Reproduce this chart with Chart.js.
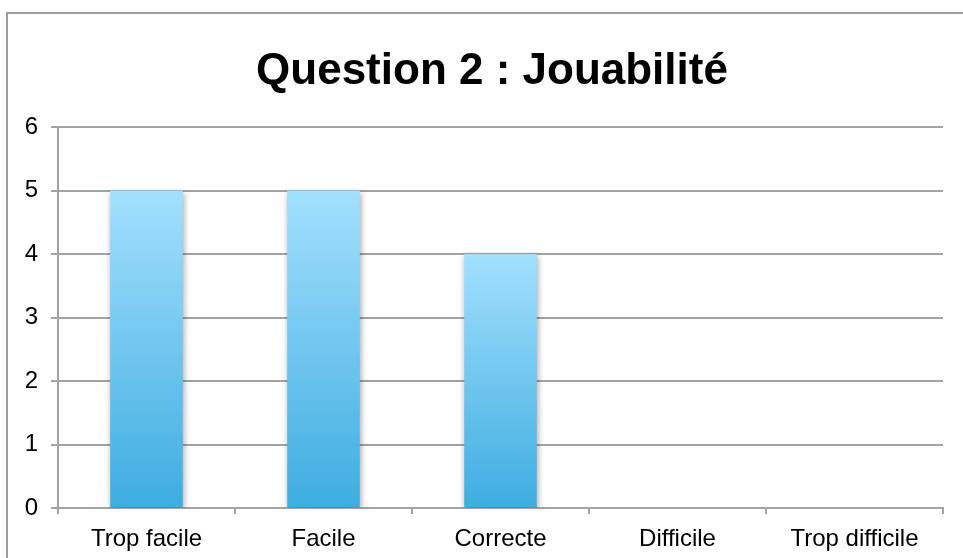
<!DOCTYPE html>
<html>
<head>
<meta charset="utf-8">
<script src="https://cdn.jsdelivr.net/npm/chart.js@4"></script>
<style>
  body { margin: 0; background: #fff; overflow: hidden; }
  #frame { position: absolute; left: 6px; top: 12px; width: 1000px; height: 600px; border: 2px solid #9d9d9d; }
  #mycanvas { position: absolute; left: 0; top: 0; }
</style>
</head>
<body>
<div id="frame"></div>
<canvas id="mycanvas" width="963" height="558"></canvas>
<script>
var categories = ["Trop facile", "Facile", "Correcte", "Difficile", "Trop difficile"];
var reponses = [5, 5, 4, 0, 0];
var yTicks = ["0", "1", "2", "3", "4", "5", "6"];
var chartTitle = "Question 2 : Jouabilité";

var gridColor = "#a3a3a3";
var fontFamily = "'Liberation Sans', Arial, sans-serif";

// gradient per bar, light on top, darker at the bottom
function barGradient(context) {
    var chart = context.chart;
    if (!chart.chartArea) return "#7cc8f0";
    var y = chart.scales.y;
    var top = y.getPixelForValue(context.raw);
    var bottom = y.getPixelForValue(0);
    if (bottom - top < 1) return "#7cc8f0";
    var g = chart.ctx.createLinearGradient(0, top, 0, bottom);
    g.addColorStop(0, "#a3e0fe");
    g.addColorStop(1, "#3eade0");
    return g;
}

var barShadow = {
    id: "barShadow",
    beforeDatasetsDraw: function(chart) {
        var ctx = chart.ctx;
        ctx.save();
        ctx.shadowColor = "rgba(0, 0, 0, 0.35)";
        ctx.shadowBlur = 6;
        ctx.shadowOffsetX = 1;
        ctx.shadowOffsetY = 2;
    },
    afterDatasetsDraw: function(chart) {
        chart.ctx.restore();
    }
};

// title is not centred over the canvas in the original, so draw it here
var titlePlugin = {
    id: "titlePlugin",
    afterDraw: function(chart) {
        var ctx = chart.ctx;
        ctx.save();
        ctx.font = "bold 44px " + fontFamily;
        ctx.fillStyle = "#000";
        ctx.textAlign = "center";
        ctx.textBaseline = "alphabetic";
        ctx.fillText(chartTitle, 492, 84);
        ctx.restore();
    }
};

var chartdata = {
    labels: categories,
    datasets: [{
        label: "Question 2",
        data: reponses,
        backgroundColor: barGradient,
        borderWidth: 0,
        categoryPercentage: 1,
        barPercentage: 0.41
    }]
};

var ctx = document.getElementById("mycanvas");
var chart = new Chart(ctx, {
    type: "bar",
    data: chartdata,
    plugins: [barShadow, titlePlugin],
    options: {
        responsive: false,
        animation: false,
        layout: { padding: { top: 127, left: 0, right: 20, bottom: 0 } },
        plugins: {
            legend: { display: false },
            tooltip: { enabled: false },
            title: { display: false }
        },
        scales: {
            x: {
                offset: true,
                grid: {
                    offset: true,
                    drawOnChartArea: false,
                    drawTicks: true,
                    tickLength: 6,
                    color: gridColor,
                    lineWidth: 2
                },
                border: { color: gridColor, width: 2 },
                ticks: {
                    color: "#000",
                    padding: 11,
                    font: { family: fontFamily, size: 24 }
                },
                afterFit: function(scale) { scale.height = 50; }
            },
            y: {
                min: 0,
                max: 6,
                grid: {
                    color: gridColor,
                    lineWidth: 2,
                    drawTicks: true,
                    tickLength: 7
                },
                border: { color: gridColor, width: 2 },
                ticks: {
                    stepSize: 1,
                    color: "#000",
                    padding: 13,
                    font: { family: fontFamily, size: 24 },
                    callback: function(value, index) { return yTicks[index]; }
                },
                afterFit: function(scale) { scale.width = 58; }
            }
        }
    }
});
</script>
</body>
</html>
